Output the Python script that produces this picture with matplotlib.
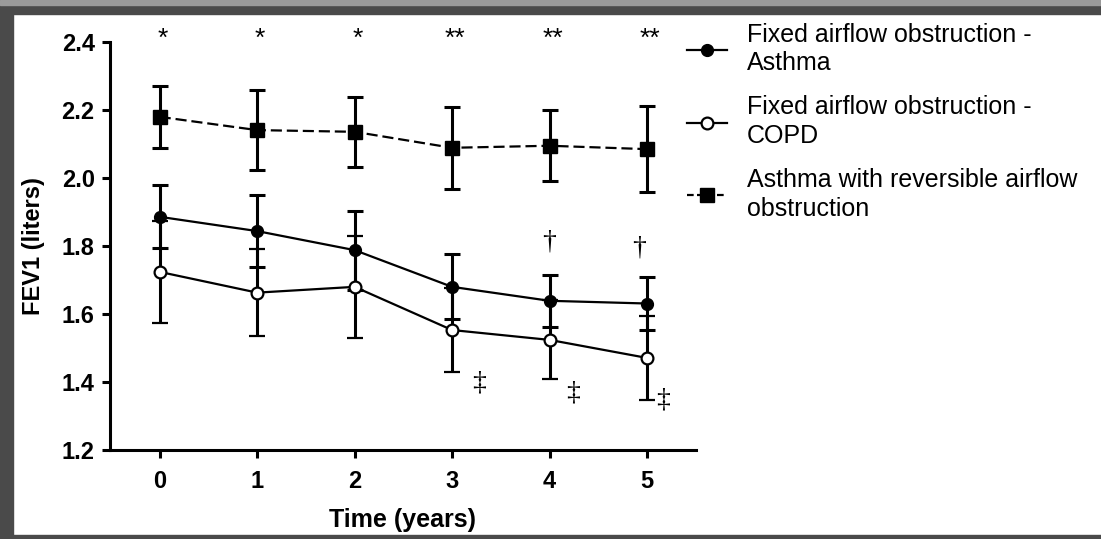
import matplotlib
matplotlib.use("Agg")
import matplotlib.pyplot as plt
from matplotlib.lines import Line2D
from matplotlib.patches import Rectangle

plt.rcParams['font.family'] = ['Liberation Sans', 'DejaVu Sans']

years = [0, 1, 2, 3, 4, 5]

# FEV1 means and error (liters)
fixed_asthma = [1.886, 1.844, 1.788, 1.680, 1.639, 1.631]
fixed_asthma_err = [0.093, 0.106, 0.116, 0.096, 0.076, 0.077]
fixed_copd = [1.724, 1.663, 1.680, 1.553, 1.524, 1.471]
fixed_copd_err = [0.150, 0.128, 0.151, 0.124, 0.116, 0.124]
reversible = [2.180, 2.141, 2.136, 2.089, 2.095, 2.085]
reversible_err = [0.091, 0.117, 0.103, 0.121, 0.105, 0.126]

stars = ['*', '*', '*', '**', '**', '**']
dagger_x = [4.0, 4.92]
dagger_y = [1.812, 1.794]
ddagger_x = [3.28, 4.24, 5.17]
ddagger_y = [1.397, 1.368, 1.347]

labels = ['Fixed airflow obstruction -\nAsthma',
          'Fixed airflow obstruction -\nCOPD',
          'Asthma with reversible airflow\nobstruction']

fig = plt.figure(figsize=(11.01, 5.39), dpi=100)
ax = fig.add_axes([0.0999, 0.165, 0.532, 0.757])

ekw = dict(color='black', elinewidth=2.2, capsize=5.8, capthick=2.2, lw=1.6)
ax.errorbar(years, reversible, yerr=reversible_err, marker='s', ms=10.5,
            ls=(0, (5, 2.2)), mfc='black', mec='black', zorder=3, **ekw)
ax.errorbar(years, fixed_asthma, yerr=fixed_asthma_err, marker='o', ms=8.5,
            ls='-', mfc='black', mec='black', zorder=4, **ekw)
ax.errorbar(years, fixed_copd, yerr=fixed_copd_err, marker='o', ms=8.5,
            ls='-', mfc='white', mec='black', mew=1.6, zorder=5, **ekw)

for x, s in zip(years, stars):
    ax.text(x + 0.03, 2.41, s, ha='center', va='center', fontsize=19,
            clip_on=False)
for x, y in zip(dagger_x, dagger_y):
    ax.text(x, y, '\u2020', ha='center', va='center', fontsize=20,
            family=['Liberation Serif', 'DejaVu Serif'])
for x, y in zip(ddagger_x, ddagger_y):
    ax.text(x, y, '\u2021', ha='center', va='center', fontsize=20,
            family=['Liberation Serif', 'DejaVu Serif'])

ax.set_xlim(-0.51, 5.5)
ax.set_ylim(1.2, 2.4)
ax.set_xticks(years)
ax.set_yticks([1.2, 1.4, 1.6, 1.8, 2.0, 2.2, 2.4])
ax.set_yticklabels(['1.2', '1.4', '1.6', '1.8', '2.0', '2.2', '2.4'])
ax.spines['top'].set_visible(False)
ax.spines['right'].set_visible(False)
for sp in ['left', 'bottom']:
    ax.spines[sp].set_linewidth(2.2)
ax.tick_params(width=2.2, length=6, labelsize=17, pad=5)
ax.tick_params(axis='x', pad=8)
for lab in ax.get_xticklabels() + ax.get_yticklabels():
    lab.set_fontweight('bold')
ax.set_xlabel('Time (years)', fontsize=18, fontweight='bold', labelpad=11)
ax.set_ylabel('FEV1 (liters)', fontsize=17, fontweight='bold', labelpad=12)

handles = [
    Line2D([], [], color='black', lw=1.6, marker='o', ms=8.5, mfc='black'),
    Line2D([], [], color='black', lw=1.6, marker='o', ms=8.5, mfc='white', mew=1.6),
    Line2D([], [], color='black', lw=1.6, ls=(0, (3, 1.5)), marker='s', ms=10),
]
leg = fig.legend(handles, labels, loc='upper left', bbox_to_anchor=(0.624, 0.958),
                 frameon=False, fontsize=18, handlelength=1.6, handletextpad=0.8,
                 labelspacing=0.8, borderpad=0, borderaxespad=0)
for t in leg.get_texts():
    t.set_linespacing(1.25)

# dark picture frame
fig.patches.append(Rectangle((0, 0), 13 / 1101, 1, transform=fig.transFigure,
                             color='#4a4a4a', zorder=10))
fig.patches.append(Rectangle((0, 1 - 14 / 539), 1, 14 / 539, transform=fig.transFigure,
                             color='#4a4a4a', zorder=10))
fig.patches.append(Rectangle((0, 1 - 5 / 539), 1, 5 / 539, transform=fig.transFigure,
                             color='#9a9a9a', zorder=11))
fig.patches.append(Rectangle((0, 0), 1, 4 / 539, transform=fig.transFigure,
                             color='#4a4a4a', zorder=10))

fig.savefig('out.png', dpi=100)
